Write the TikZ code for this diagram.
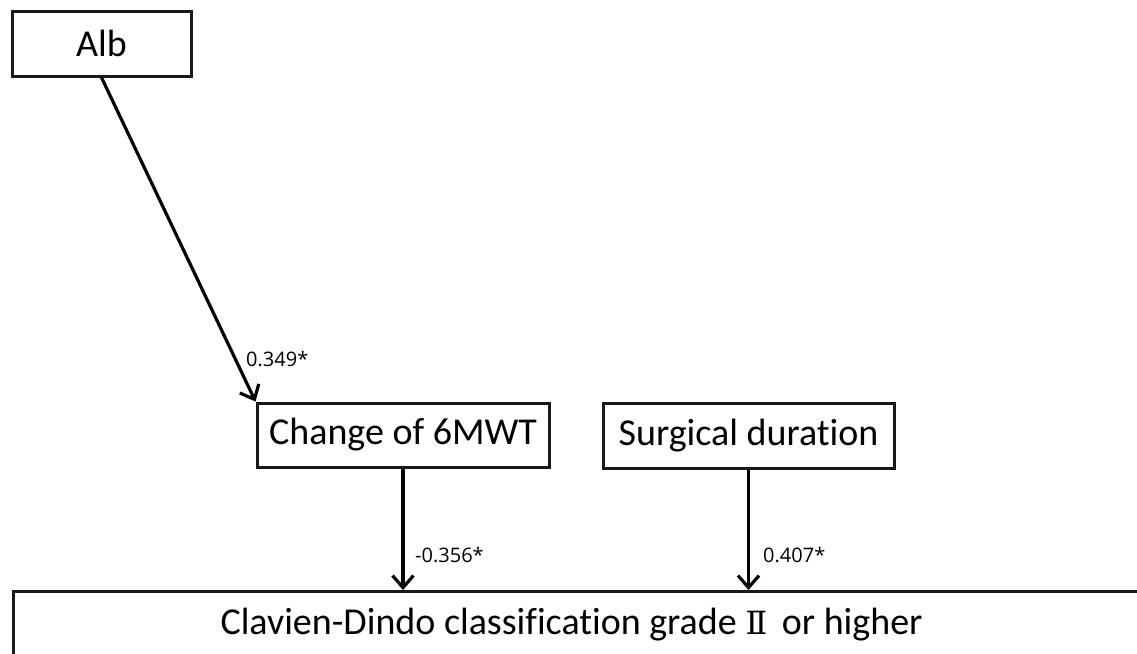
\documentclass[tikz,border=0pt]{standalone}
\usepackage{fontspec}
\setmainfont{Carlito}[Ligatures=NoCommon]
\newfontfamily\numfont{DejaVu Serif}
\newfontfamily\labfont{Open Sans}
\usetikzlibrary{arrows.meta}
\tikzset{
  box/.style={draw=black!90, line width=3pt, inner sep=0pt, font=\fontsize{38}{40}\selectfont},
  conn/.style={line width=3.2pt, -{Straight Barb[length=12pt,width=21pt,line width=3.2pt]}},
  coef/.style={inner sep=0pt, anchor=west, font=\labfont\fontsize{20}{22}\selectfont}
}
\begin{document}
\begin{tikzpicture}[x=1pt,y=-1pt]
\useasboundingbox (0,0) rectangle (1137,653);
\clip (0,0) rectangle (1137,653);
\fill[white] (0,0) rectangle (1137,653);
\node[box, minimum width=179pt, minimum height=65pt] (alb) at (101.5,43.5) {Alb};
\node[box, minimum width=292pt, minimum height=64pt] (chg) at (403,435) {Change of 6MWT};
\node[box, minimum width=291pt, minimum height=65pt] (sur) at (748.5,435.5) {Surgical duration};
\node[box, minimum width=1150pt, minimum height=100pt, anchor=north west] (cd) at (12,590) {};
\node[inner sep=0pt, font=\fontsize{38}{40}\selectfont] (cdt) at (571.5,625) {Clavien-Dindo classification grade {\numfont\fontsize{32}{34}\selectfont Ⅱ}\hspace{6pt} or higher};
\draw[conn] (alb.south) -- (chg.north west);
\draw[conn] (chg.south) -- (chg.south |- cd.north);
\draw[conn] (sur.south) -- (sur.south |- cd.north);
\node[coef] (l1) at (246,359) {0.349*};
\node[coef] (l2) at (415,555) {-0.356*};
\node[coef] (l3) at (763,555) {0.407*};
\end{tikzpicture}
\end{document}
